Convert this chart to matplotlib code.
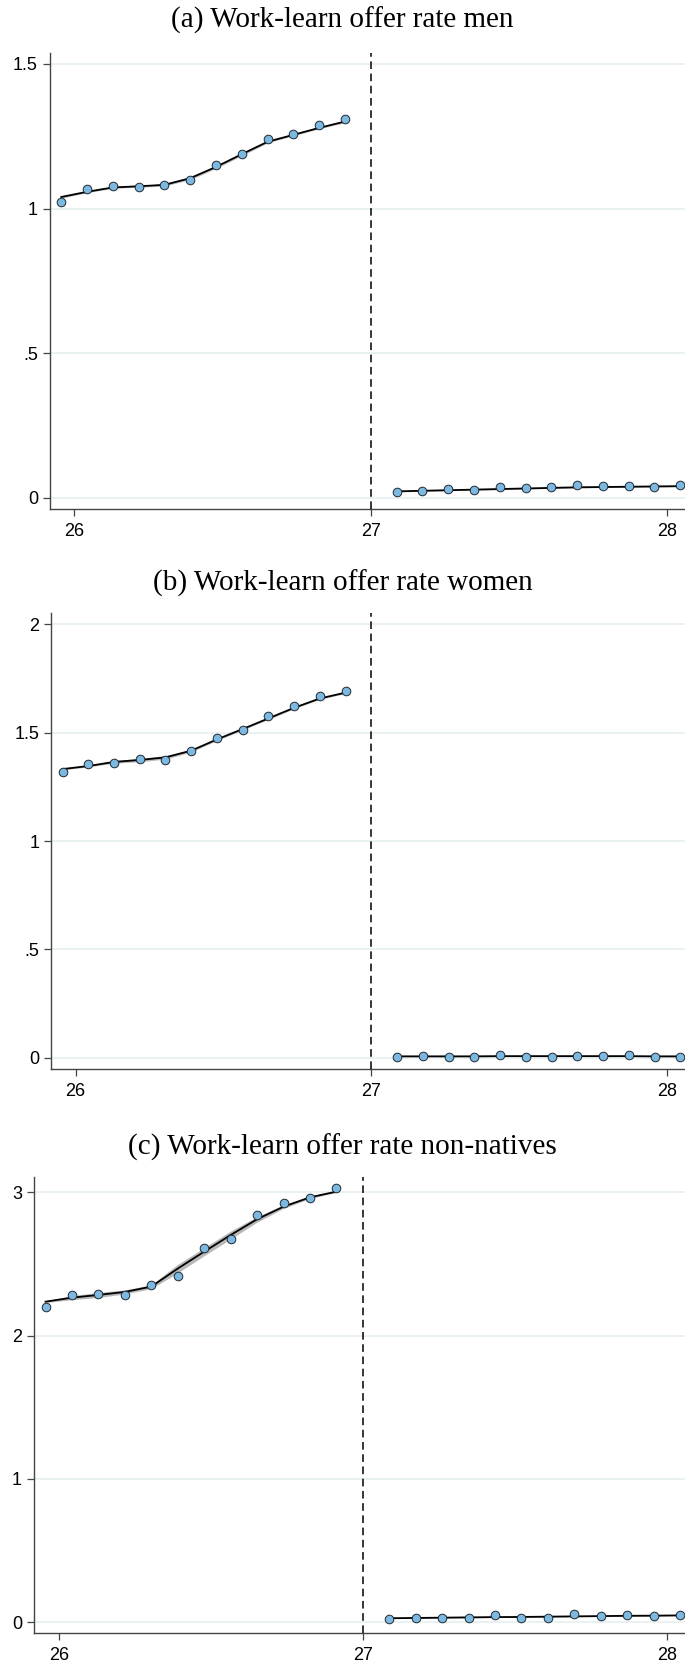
import numpy as np
import matplotlib.pyplot as plt

# bin centres (age in years) left / right of the cutoff at 27
x_left = [25.956, 26.043, 26.130, 26.217, 26.304, 26.391,
          26.478, 26.565, 26.652, 26.739, 26.826, 26.913]
x_right = [27.087, 27.174, 27.261, 27.348, 27.435, 27.522,
           27.609, 27.696, 27.783, 27.870, 27.957, 28.044]

# (a) men
men_pts_l = [1.024, 1.066, 1.077, 1.075, 1.083, 1.098, 1.152, 1.189, 1.241, 1.259, 1.288, 1.311]
men_fit_l = [1.040, 1.058, 1.073, 1.077, 1.082, 1.105, 1.144, 1.188, 1.231, 1.255, 1.279, 1.301]
men_ci_l = [0.004, 0.003, 0.003, 0.003, 0.004, 0.005, 0.005, 0.005, 0.004, 0.003, 0.003, 0.004]
men_pts_r = [0.020, 0.023, 0.031, 0.027, 0.038, 0.035, 0.036, 0.044, 0.042, 0.039, 0.036, 0.045]
men_fit_r = [0.022, 0.024, 0.026, 0.028, 0.030, 0.032, 0.034, 0.036, 0.037, 0.038, 0.039, 0.040]
men_ci_r = [0.002] * 12

# (b) women
wom_pts_l = [1.320, 1.354, 1.362, 1.380, 1.372, 1.415, 1.477, 1.514, 1.577, 1.622, 1.668, 1.691]
wom_fit_l = [1.332, 1.346, 1.365, 1.374, 1.386, 1.417, 1.469, 1.517, 1.566, 1.615, 1.658, 1.685]
wom_ci_l = [0.004, 0.004, 0.006, 0.008, 0.008, 0.006, 0.005, 0.005, 0.005, 0.004, 0.004, 0.004]
wom_pts_r = [0.005, 0.008, 0.005, 0.005, 0.010, 0.005, 0.005, 0.008, 0.008, 0.010, 0.005, 0.005]
wom_fit_r = [0.006, 0.006, 0.006, 0.006, 0.007, 0.007, 0.007, 0.007, 0.007, 0.007, 0.006, 0.006]
wom_ci_r = [0.002] * 12

# (c) non-natives
nn_pts_l = [2.202, 2.286, 2.291, 2.284, 2.351, 2.419, 2.614, 2.677, 2.840, 2.923, 2.963, 3.033]
nn_fit_l = [2.237, 2.265, 2.284, 2.305, 2.342, 2.468, 2.586, 2.702, 2.812, 2.900, 2.965, 3.005]
nn_ci_l = [0.006, 0.014, 0.018, 0.014, 0.014, 0.030, 0.028, 0.028, 0.020, 0.012, 0.008, 0.006]
nn_pts_r = [0.025, 0.030, 0.033, 0.030, 0.051, 0.028, 0.033, 0.056, 0.045, 0.051, 0.043, 0.053]
nn_fit_r = [0.028, 0.030, 0.032, 0.034, 0.036, 0.037, 0.039, 0.041, 0.043, 0.045, 0.046, 0.048]
nn_ci_r = [0.003] * 12

titles = ["(a) Work-learn offer rate men",
          "(b) Work-learn offer rate women",
          "(c) Work-learn offer rate non-natives"]
yticks = [[0, 0.5, 1, 1.5], [0, 0.5, 1, 1.5, 2], [0, 1, 2, 3]]
yticklabels = [["0", ".5", "1", "1.5"], ["0", ".5", "1", "1.5", "2"], ["0", "1", "2", "3"]]
xticks = [26, 27, 28]

panels = [
    (men_pts_l, men_fit_l, men_ci_l, men_pts_r, men_fit_r, men_ci_r),
    (wom_pts_l, wom_fit_l, wom_ci_l, wom_pts_r, wom_fit_r, wom_ci_r),
    (nn_pts_l, nn_fit_l, nn_ci_l, nn_pts_r, nn_fit_r, nn_ci_r),
]

W, H = 685, 1667
# axes boxes in pixels: left, top, bottom
boxes = [(49.7, 52.7, 508.7), (51.0, 613.3, 1068.7), (33.7, 1176.7, 1633.0)]
ylims = [(-0.038, 1.539), (-0.051, 2.051), (-0.075, 3.109)]
title_y = [20, 583, 1147]

fig = plt.figure(figsize=(W / 100, H / 100), dpi=100)
tick_font = ['Liberation Sans', 'DejaVu Sans']
fill_c = '#7db8e0'
spine_c = '#444444'
grid_c = '#e6eff1'

for i in range(3):
    l, t, b = boxes[i]
    ax = fig.add_axes([l / W, 1 - b / H, (W - l) / W, (b - t) / H])
    pl, fl, cl, pr, fr, cr = panels[i]

    for xs, fit, ci, pts in [(x_left, fl, cl, pl), (x_right, fr, cr, pr)]:
        xs = np.array(xs)
        fit = np.array(fit)
        ci = np.array(ci)
        ax.fill_between(xs, fit - ci, fit + ci, color='#a8a8a8', alpha=0.8,
                        lw=0, zorder=2)
        ax.plot(xs, fit, color='black', lw=1.3, zorder=3)
        ax.plot(xs, pts, 'o', ms=6.2, mfc=fill_c, mec='#1e2a33', mew=0.7,
                zorder=4)

    ax.axvline(27, color='black', lw=1.1, ls=(0, (5, 3)), zorder=3)

    ax.set_xlim(25.917, 28.06)
    ax.set_ylim(*ylims[i])
    ax.set_yticks(yticks[i])
    ax.set_yticklabels(yticklabels[i])
    ax.set_xticks(xticks)
    ax.grid(axis='y', color=grid_c, lw=1.2, zorder=0)
    ax.set_axisbelow(True)

    for s in ['top', 'right']:
        ax.spines[s].set_visible(False)
    for s in ['left', 'bottom']:
        ax.spines[s].set_color(spine_c)
        ax.spines[s].set_linewidth(1.0)

    ax.tick_params(axis='y', length=5, width=0.9, color=spine_c, pad=3.5)
    ax.tick_params(axis='x', length=5, width=0.9, color=spine_c, pad=5)
    for lab in ax.get_xticklabels() + ax.get_yticklabels():
        lab.set_family(tick_font)
        lab.set_fontsize(13)
        lab.set_color('black')

    fig.text(0.5, 1 - title_y[i] / H, titles[i], ha='center', va='center',
             family=['Liberation Serif', 'DejaVu Serif'], fontsize=21)

fig.savefig('out.png', dpi=100)
